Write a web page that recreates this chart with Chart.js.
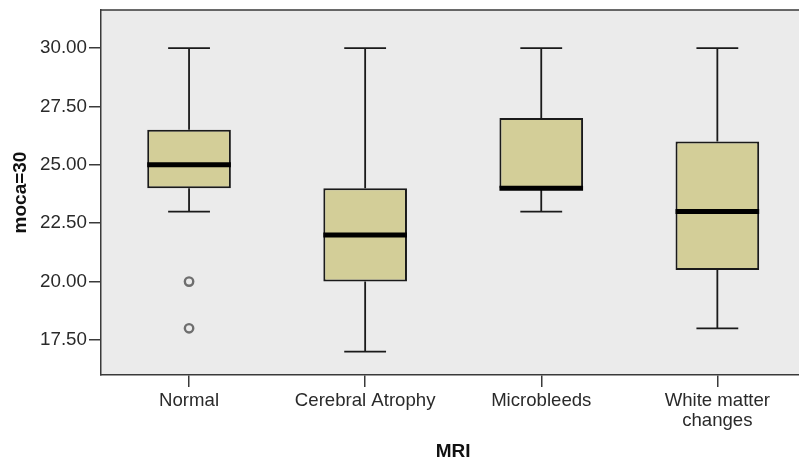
<!DOCTYPE html>
<html>
<head>
<meta charset="utf-8">
<script src="https://cdn.jsdelivr.net/npm/chart.js@4.4.1/dist/chart.umd.min.js"></script>
<style>
html,body{margin:0;padding:0;background:#fff;overflow:hidden;width:799px;height:461px;}
#wrap{width:812px;height:461px;}
</style>
</head>
<body>
<div id="wrap"><canvas id="c" width="812" height="461"></canvas></div>
<script>
const categories = ['Normal', 'Cerebral Atrophy', 'Microbleeds', ['White matter', 'changes']];
const whiskerMin = [23, 17, 23, 18];
const q1 = [24, 20, 24, 20.5];
const median = [25, 22, 24, 23];
const q3 = [26.5, 24, 27, 26];
const whiskerMax = [30, 30, 30, 30];
const outlierCategory = ['Normal', 'Normal'];
const outlierValues = [20, 18];
const yTicks = [17.5, 20, 22.5, 25, 27.5, 30];

const catKeys = categories.map(c => Array.isArray(c) ? c.join(' ') : c);

const boxPlugin = {
  id: 'boxExtras',
  beforeDraw(chart) {
    const {ctx, chartArea: a} = chart;
    ctx.save();
    ctx.fillStyle = '#ebebeb';
    ctx.fillRect(a.left, a.top, a.right - a.left, a.bottom - a.top);
    ctx.restore();
  },
  beforeDatasetsDraw(chart) {
    const {ctx} = chart;
    const x = chart.scales.x, y = chart.scales.y;
    const meta = chart.getDatasetMeta(0);
    ctx.save();
    ctx.strokeStyle = '#1a1a1a';
    ctx.lineWidth = 1.8;
    meta.data.forEach((bar, i) => {
      const cx = x.getPixelForValue(i);
      const cap = bar.width / 4;
      const yMax = y.getPixelForValue(whiskerMax[i]);
      const yMin = y.getPixelForValue(whiskerMin[i]);
      const yQ1 = y.getPixelForValue(q1[i]);
      const yQ3 = y.getPixelForValue(q3[i]);
      ctx.beginPath();
      ctx.moveTo(cx, yQ3); ctx.lineTo(cx, yMax);
      ctx.moveTo(cx - cap, yMax); ctx.lineTo(cx + cap, yMax);
      ctx.moveTo(cx, yQ1); ctx.lineTo(cx, yMin);
      ctx.moveTo(cx - cap, yMin); ctx.lineTo(cx + cap, yMin);
      ctx.stroke();
    });
    ctx.restore();
  },
  afterDatasetsDraw(chart) {
    const {ctx, chartArea: a} = chart;
    const x = chart.scales.x, y = chart.scales.y;
    const meta = chart.getDatasetMeta(0);
    ctx.save();
    ctx.strokeStyle = '#000';
    ctx.lineWidth = 5;
    meta.data.forEach((bar, i) => {
      const cx = x.getPixelForValue(i);
      const hw = bar.width / 2;
      const ym = y.getPixelForValue(median[i]);
      ctx.beginPath();
      ctx.moveTo(cx - hw, ym); ctx.lineTo(cx + hw, ym);
      ctx.stroke();
    });
    ctx.strokeStyle = '#3a3a3a';
    ctx.lineWidth = 1.5;
    ctx.beginPath();
    ctx.moveTo(a.left, a.top); ctx.lineTo(a.right, a.top); ctx.lineTo(a.right, a.bottom);
    ctx.stroke();
    ctx.restore();
  }
};

new Chart(document.getElementById('c'), {
  type: 'bar',
  data: {
    labels: categories,
    datasets: [
      {
        label: 'box',
        data: q1.map((v, i) => [v, q3[i]]),
        backgroundColor: '#d3ce98',
        borderColor: '#1a1a1a',
        borderWidth: 2,
        borderSkipped: false,
        categoryPercentage: 1,
        barPercentage: 0.475,
        order: 2
      },
      {
        type: 'line',
        label: 'outliers',
        data: outlierValues.map((v, i) => ({x: categories[catKeys.indexOf(outlierCategory[i])], y: v})),
        showLine: false,
        pointStyle: 'circle',
        pointRadius: 4.2,
        pointBorderWidth: 2.4,
        pointBorderColor: '#6e6e6e',
        pointBackgroundColor: 'rgba(0,0,0,0)',
        order: 1
      }
    ]
  },
  options: {
    responsive: false,
    animation: false,
    layout: {padding: {top: 10, right: 1, left: 0, bottom: 0}},
    plugins: {legend: {display: false}, tooltip: {enabled: false}},
    scales: {
      x: {
        offset: true,
        grid: {display: true, drawOnChartArea: false, drawTicks: true, tickLength: 12, offset: false, color: '#3a3a3a', lineWidth: 1.5},
        border: {display: true, color: '#3a3a3a', width: 1.5},
        ticks: {color: '#2a2a2a', font: {family: 'Liberation Sans, Arial', size: 18.6, lineHeight: 1.08}, padding: 4, maxRotation: 0, autoSkip: false},
        title: {display: true, text: 'MRI', color: '#111', font: {family: 'Liberation Sans, Arial', size: 19, weight: 'bold', lineHeight: 1.0}, padding: {top: 0, bottom: 0}},
        afterFit(s) { s.height = 86; s.paddingLeft = 0; s.paddingRight = 0; }
      },
      y: {
        min: 16.0,
        max: 31.63,
        afterBuildTicks(s) { s.ticks = yTicks.map(v => ({value: v})); },
        grid: {display: true, drawOnChartArea: false, drawTicks: true, tickLength: 12, color: '#3a3a3a', lineWidth: 1.5},
        border: {display: true, color: '#3a3a3a', width: 1.5},
        ticks: {color: '#2a2a2a', font: {family: 'Liberation Sans, Arial', size: 18.8}, padding: 2, callback: v => Number(v).toFixed(2)},
        title: {display: true, text: 'moca=30', color: '#111', font: {family: 'Liberation Sans, Arial', size: 19, weight: 'bold', lineHeight: 1.2}, padding: {top: 9, bottom: 0}},
        afterFit(s) { s.width = 101; s.paddingTop = 0; s.paddingBottom = 0; }
      }
    }
  },
  plugins: [boxPlugin]
});
</script>
</body>
</html>
